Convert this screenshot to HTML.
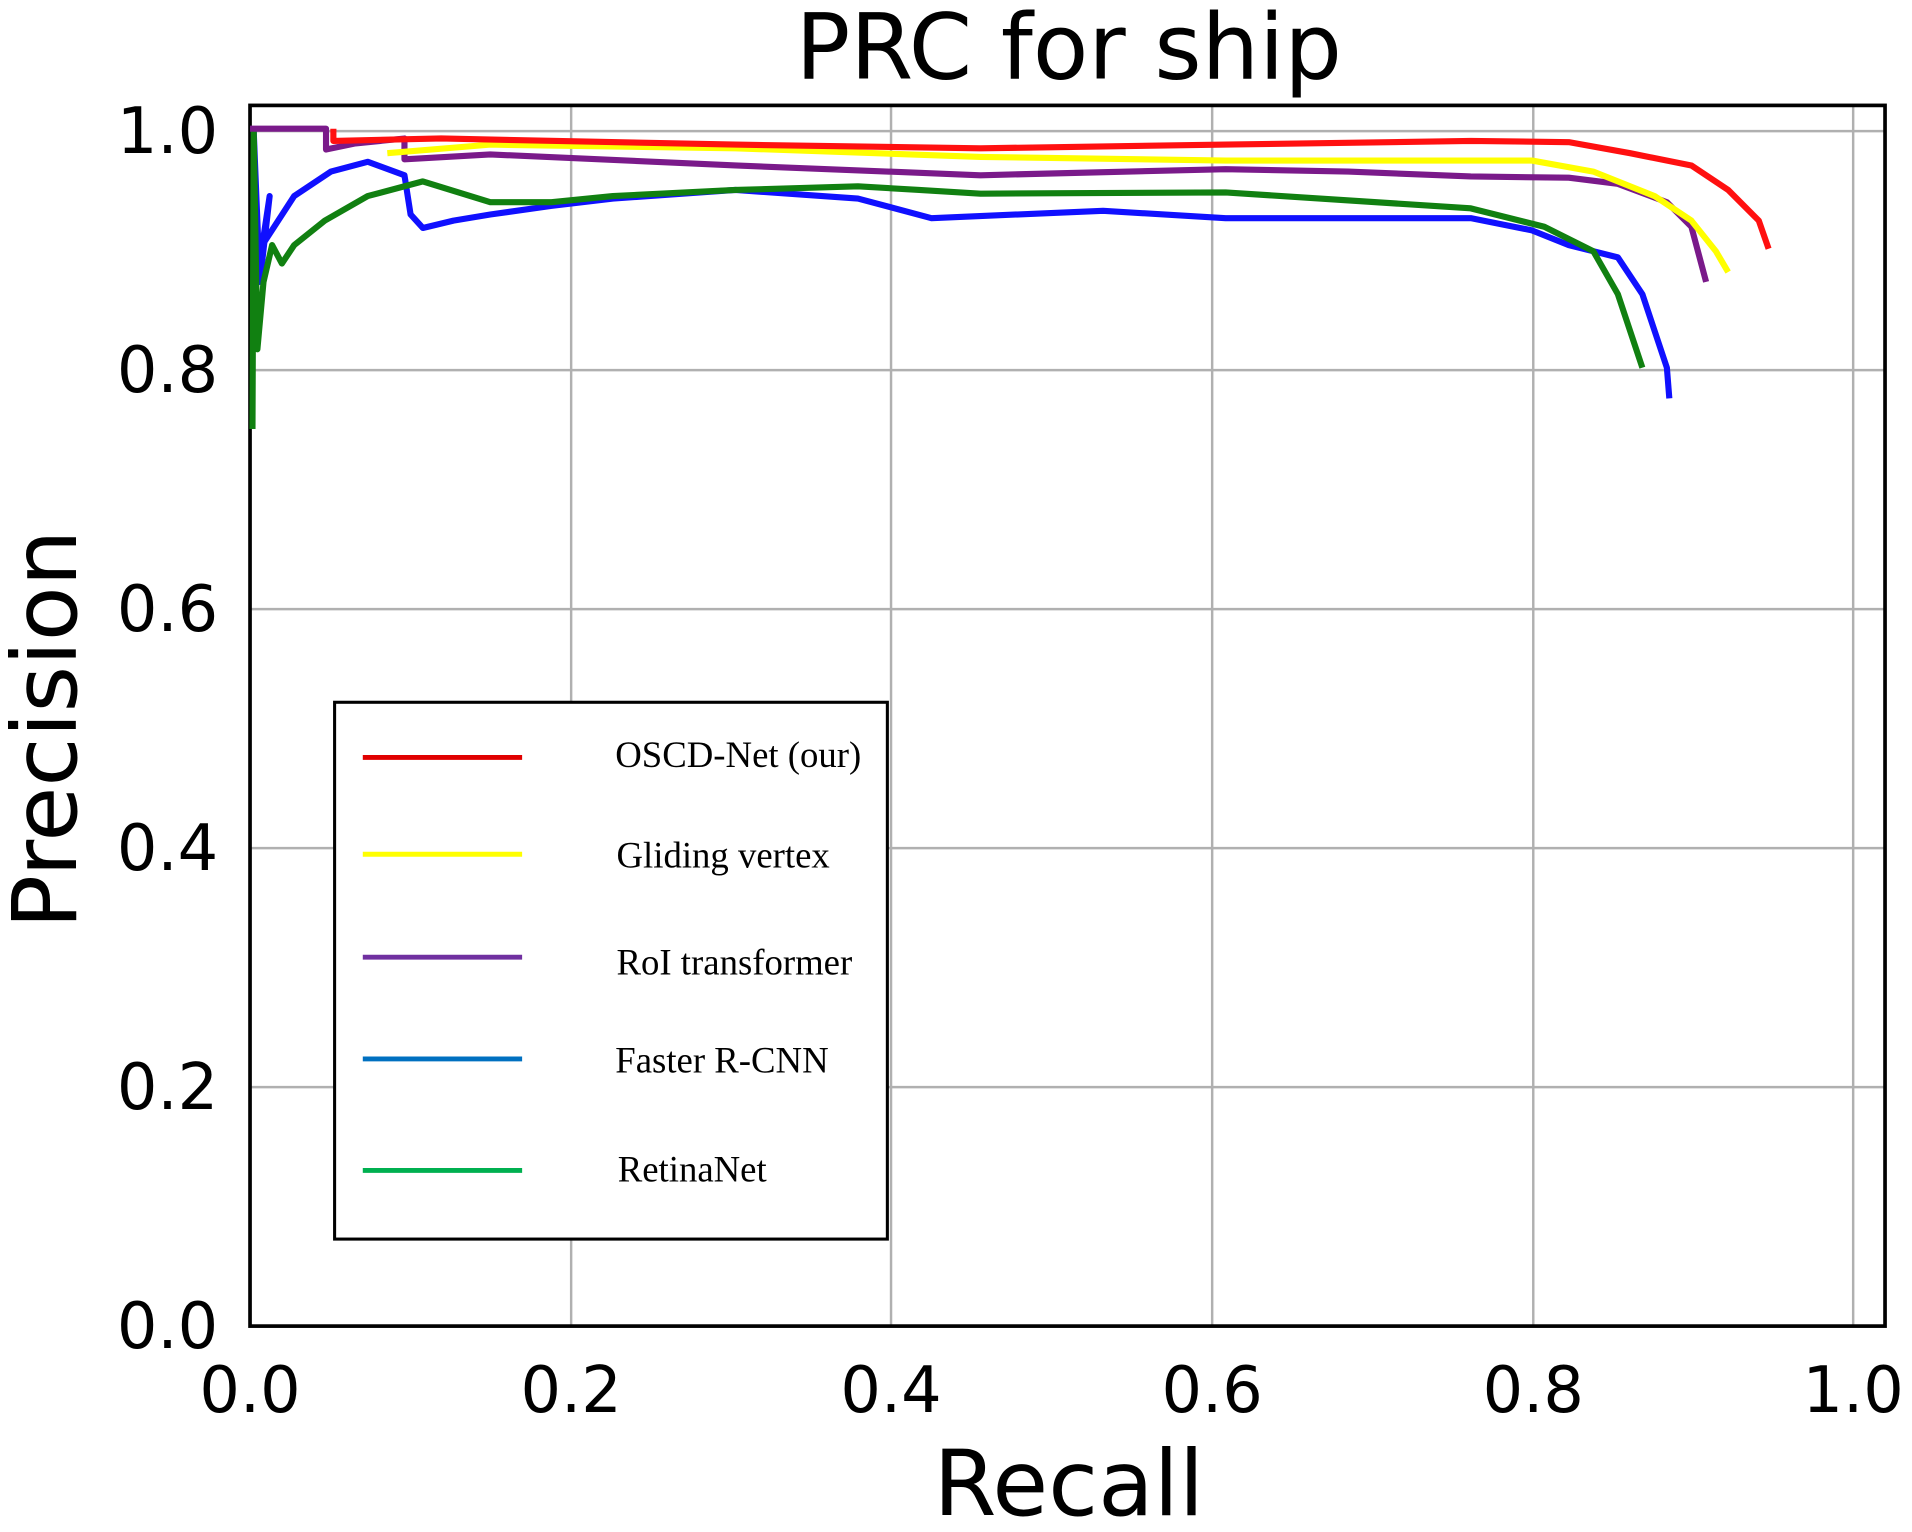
<!DOCTYPE html>
<html><head><meta charset="utf-8"><style>html,body{margin:0;padding:0;background:#fff;}svg{display:block}</style></head>
<body>
<svg width="1912" height="1532" viewBox="0 0 1560 1250" preserveAspectRatio="none" xmlns="http://www.w3.org/2000/svg">
<rect width="1560" height="1250" fill="#fff"/>
<g stroke="#b0b0b0" stroke-width="2">
<line x1="466" y1="86" x2="466" y2="1082"/><line x1="727" y1="86" x2="727" y2="1082"/><line x1="989" y1="86" x2="989" y2="1082"/><line x1="1251" y1="86" x2="1251" y2="1082"/><line x1="1512" y1="86" x2="1512" y2="1082"/>
<line x1="204" y1="107" x2="1538" y2="107"/><line x1="204" y1="302" x2="1538" y2="302"/><line x1="204" y1="497" x2="1538" y2="497"/><line x1="204" y1="692" x2="1538" y2="692"/><line x1="204" y1="887" x2="1538" y2="887"/>
</g>
<rect x="204" y="86" width="1334" height="996" fill="none" stroke="#000" stroke-width="3"/>
<g fill="none" stroke-width="5" stroke-linejoin="round">
<polyline stroke="#1010ff" points="207,107 212,230 220,160 214,200 240,160 270,140 300,132 330,143 335,175 345,186 370,180 400,175 450,168 500,162 600,155 700,162 760,178 900,172 1000,178 1100,178 1200,178 1250,188 1280,200 1320,210 1340,240 1350,270 1360,300 1362,325"/>
<polyline stroke="#118011" points="206,350 207,107 210,285 215,230 222,200 230,215 240,200 265,180 300,160 345,148 400,165 450,165 500,160 600,155 700,152 750,155 800,158 1000,157 1200,170 1260,185 1300,205 1320,240 1330,270 1340,300"/>
<polyline stroke="#7a1a8a" points="204,105 266,105 266,122 290,117 330,113 330,130 400,126 600,135 800,143 1000,138 1100,140 1200,144 1280,145 1320,150 1360,165 1380,185 1392,230"/>
<polyline stroke="#ffff00" points="316,125 400,118 600,121 800,128 1000,131 1250,131 1300,140 1350,160 1380,180 1400,205 1410,222"/>
<polyline stroke="#ff1010" points="272,105 272,115 360,113 600,118 800,121 1000,118 1200,115 1280,116 1330,125 1380,135 1410,155 1435,180 1443,203"/>
</g>
<g font-family="DejaVu Sans, sans-serif" font-size="52" fill="#000">
<text x="872" y="64" text-anchor="middle" font-size="74">PRC for ship</text>
<text x="872" y="1236" text-anchor="middle" font-size="74">Recall</text>
<text transform="translate(62,595) rotate(-90)" text-anchor="middle" font-size="73">Precision</text>
<g text-anchor="middle">
<text x="204" y="1152">0.0</text><text x="466" y="1152">0.2</text><text x="727" y="1152">0.4</text><text x="989" y="1152">0.6</text><text x="1251" y="1152">0.8</text><text x="1512" y="1152">1.0</text>
</g>
<g text-anchor="end">
<text x="178" y="1100">0.0</text><text x="178" y="905">0.2</text><text x="178" y="710">0.4</text><text x="178" y="515">0.6</text><text x="178" y="320">0.8</text><text x="178" y="125">1.0</text>
</g>
</g>
<rect x="273" y="573" width="451" height="438" fill="#fff" stroke="#000" stroke-width="2.5"/>
<g stroke-width="4">
<line x1="296" y1="618" x2="426" y2="618" stroke="#e00000"/>
<line x1="296" y1="697" x2="426" y2="697" stroke="#ffff00"/>
<line x1="296" y1="781" x2="426" y2="781" stroke="#7030a0"/>
<line x1="296" y1="864" x2="426" y2="864" stroke="#0070c0"/>
<line x1="296" y1="955" x2="426" y2="955" stroke="#00b050"/>
</g>
<g font-family="Liberation Serif, serif" font-size="30" fill="#000">
<text x="502" y="626">OSCD-Net (our)</text>
<text x="503" y="708">Gliding vertex</text>
<text x="503" y="795">RoI transformer</text>
<text x="502" y="875">Faster R-CNN</text>
<text x="504" y="964">RetinaNet</text>
</g>
</svg>
</body></html>
